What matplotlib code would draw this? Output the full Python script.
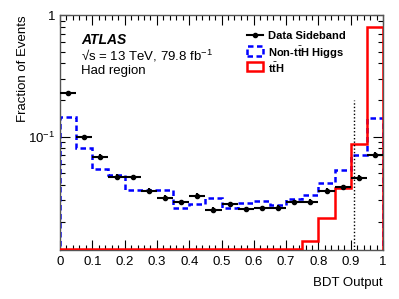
import numpy as np
import matplotlib
matplotlib.use("Agg")
import matplotlib.pyplot as plt
from matplotlib.lines import Line2D
from matplotlib.patches import Rectangle
from matplotlib.ticker import MultipleLocator, LogLocator, NullFormatter, FixedLocator

plt.rcParams["font.family"] = ["Liberation Sans", "DejaVu Sans"]
plt.rcParams["mathtext.fontset"] = "custom"
plt.rcParams["mathtext.rm"] = "Liberation Sans"
plt.rcParams["mathtext.bf"] = "Liberation Sans:bold"

# BDT output bins (width 0.05)
bin_edges = np.linspace(0.0, 1.0, 21)
bin_centers = 0.5 * (bin_edges[:-1] + bin_edges[1:])

data_sideband = [0.227, 0.099, 0.0685, 0.0469, 0.0466, 0.0360, 0.0316, 0.0290, 0.0327, 0.0250,
                 0.0280, 0.0253, 0.0258, 0.0261, 0.0289, 0.0292, 0.0360, 0.0384, 0.0461, 0.0707]
data_err = [0.010, 0.004, 0.003, 0.002, 0.002, 0.0016, 0.0014, 0.0013, 0.0014, 0.0012,
            0.0012, 0.0012, 0.0012, 0.0012, 0.0013, 0.0013, 0.0016, 0.0018, 0.0022, 0.0035]
non_tth_higgs = [0.146, 0.0803, 0.0543, 0.0484, 0.0362, 0.0362, 0.0362, 0.0258, 0.0280, 0.0315,
                 0.0258, 0.0284, 0.0298, 0.0272, 0.0306, 0.0332, 0.0414, 0.0533, 0.0707, 0.142]
tth = [0, 0, 0, 0, 0, 0, 0, 0, 0, 0,
       0, 0, 0, 0, 0, 0.0139, 0.0213, 0.0377, 0.0871, 0.80]
legend_labels = ["Data Sideband", r"Non-t$\bar{\mathbf{t}}$H Higgs", r"t$\bar{\mathbf{t}}$H"]

cut_value = 0.91
y_min, y_max = 0.0117, 1.0

blue_ls = (0, (2.2, 1.4))

fig = plt.figure(figsize=(3.99, 2.99), dpi=100)
ax = fig.add_axes([0.1504, 0.1639, 0.8096, 0.7859])
ax.set_yscale("log")

# step histograms (values clipped to the axis floor like ROOT draws empty bins)
nh = np.clip(np.array(non_tth_higgs), y_min, None)
ax.stairs(nh, bin_edges, color="#0000ff", lw=1.8, ls=blue_ls, zorder=2)
th = np.clip(np.array(tth), y_min * 1.01, None)
ax.stairs(th, bin_edges, color="#ff0000", lw=1.8, zorder=3)

ax.errorbar(bin_centers, data_sideband, xerr=0.025, yerr=data_err, fmt="o", color="black",
            ms=3, lw=1.5, capsize=0, zorder=4)

ax.plot([cut_value, cut_value], [y_min, 0.2], color="black", lw=1, ls=(0, (1, 1.5)), zorder=5)

ax.set_xlim(0, 1)
ax.set_ylim(y_min, y_max)

ax.xaxis.set_major_locator(MultipleLocator(0.1))
ax.xaxis.set_minor_locator(MultipleLocator(0.02))
ax.xaxis.set_major_formatter(plt.FuncFormatter(lambda v, p: "%g" % round(v, 2)))
ax.yaxis.set_major_locator(FixedLocator([0.1, 1.0]))
ax.yaxis.set_major_formatter(plt.FuncFormatter(lambda v, p: "1" if v > 0.5 else r"$10^{-1}$"))
ax.yaxis.set_minor_locator(LogLocator(base=10, subs=np.arange(2, 10)))
ax.yaxis.set_minor_formatter(NullFormatter())

ax.tick_params(which="both", direction="in", top=True, right=True, labelsize=9.5, colors="black")
ax.tick_params(which="major", length=7, width=0.8)
ax.tick_params(which="minor", length=3.5, width=0.8)
ax.tick_params(axis="x", pad=4)
for s in ax.spines.values():
    s.set_color("#555555")
    s.set_linewidth(1.0)

ax.set_ylabel("Fraction of Events", fontsize=9.5, loc="top", labelpad=-1)
ax.set_xlabel("BDT Output", fontsize=9.5, loc="right", labelpad=7)

ax.text(0.066, 0.894, "ATLAS", transform=ax.transAxes, fontsize=10, fontweight="bold",
        fontstyle="italic", va="center")
ax.text(0.066, 0.826, "√s = 13 TeV, 79.8 fb$^{-1}$", transform=ax.transAxes, fontsize=9.5, va="center")
ax.text(0.066, 0.762, "Had region", transform=ax.transAxes, fontsize=9.5, va="center")

# legend drawn by hand, ROOT style
rows = [0.913, 0.848, 0.779]
hx0, hx1, tx = 0.578, 0.628, 0.645
ax.add_line(Line2D([hx0, hx1], [rows[0]] * 2, color="black", lw=1.5, transform=ax.transAxes))
ax.add_line(Line2D([0.5 * (hx0 + hx1)], [rows[0]], color="black", marker="o", ms=3,
                   transform=ax.transAxes))
ax.add_patch(Rectangle((hx0, rows[1] - 0.021), hx1 - hx0, 0.042, transform=ax.transAxes,
                       facecolor="none", edgecolor="#0000ff", lw=1.8, ls=blue_ls))
ax.add_patch(Rectangle((hx0, rows[2] - 0.019), hx1 - hx0, 0.038, transform=ax.transAxes,
                       facecolor="none", edgecolor="#ff0000", lw=1.8))
for r, lab in zip(rows, legend_labels):
    ax.text(tx, r, lab, transform=ax.transAxes, fontsize=8, fontweight="bold", va="center_baseline")

fig.savefig("out.png", dpi=100)
